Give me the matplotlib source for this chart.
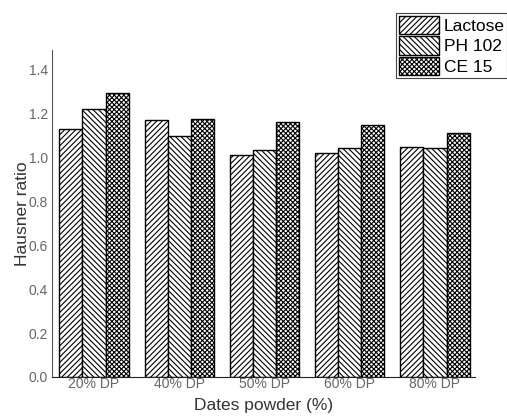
import numpy as np
import matplotlib
matplotlib.use('Agg')
import matplotlib.pyplot as plt

plt.rcParams['font.family'] = ['Liberation Sans', 'DejaVu Sans']
plt.rcParams['hatch.linewidth'] = 0.8

groups = ['20% DP', '40% DP', '50% DP', '60% DP', '80% DP']
lactose = [1.13, 1.17, 1.01, 1.02, 1.05]
ph102 = [1.22, 1.10, 1.035, 1.045, 1.045]
ce15 = [1.295, 1.175, 1.16, 1.15, 1.11]
series_names = ['Lactose', 'PH 102', 'CE 15']


def main():
    fig = plt.figure(figsize=(5.07, 4.17), dpi=100)
    ax = fig.add_axes([0.103, 0.096, 0.834, 0.784])
    x = np.arange(len(groups))
    w = 0.27
    hatches = ['//////', '\\\\\\\\\\\\', 'xxxxxxx']
    for i, (vals, name) in enumerate(zip([lactose, ph102, ce15], series_names)):
        ax.bar(x + (i - 1) * w, vals, w, facecolor='white', edgecolor='black',
               hatch=hatches[i], linewidth=1.0, label=name)
    ax.set_xlim(-0.49, 4.47)
    ax.set_ylim(0, 1.49)
    ax.set_yticks([0, 0.2, 0.4, 0.6, 0.8, 1.0, 1.2, 1.4])
    ax.set_xticks(x)
    ax.set_xticklabels(groups)
    ax.tick_params(axis='both', length=0, labelsize=10, colors='#666666', pad=0)
    ax.tick_params(axis='y', pad=3)
    ax.spines['top'].set_visible(False)
    ax.spines['right'].set_visible(False)
    ax.spines['left'].set_color('#555555')
    ax.spines['bottom'].set_color('#222222')
    ax.set_ylabel('Hausner ratio', fontsize=12.5, color='#333333', labelpad=-1)
    ax.set_xlabel('Dates powder (%)', fontsize=12.5, color='#333333', labelpad=5)
    leg = ax.legend(loc='upper left', bbox_to_anchor=(0.813, 1.113), fontsize=12.5,
                    fancybox=False, edgecolor='#444444', framealpha=1,
                    handlelength=2.3, handleheight=1.25, handletextpad=0.3,
                    borderpad=0.15, labelspacing=0.12, borderaxespad=0)
    leg.get_frame().set_linewidth(0.8)
    fig.savefig('out.png', dpi=100)
    plt.close()


if __name__ == '__main__':
    main()
